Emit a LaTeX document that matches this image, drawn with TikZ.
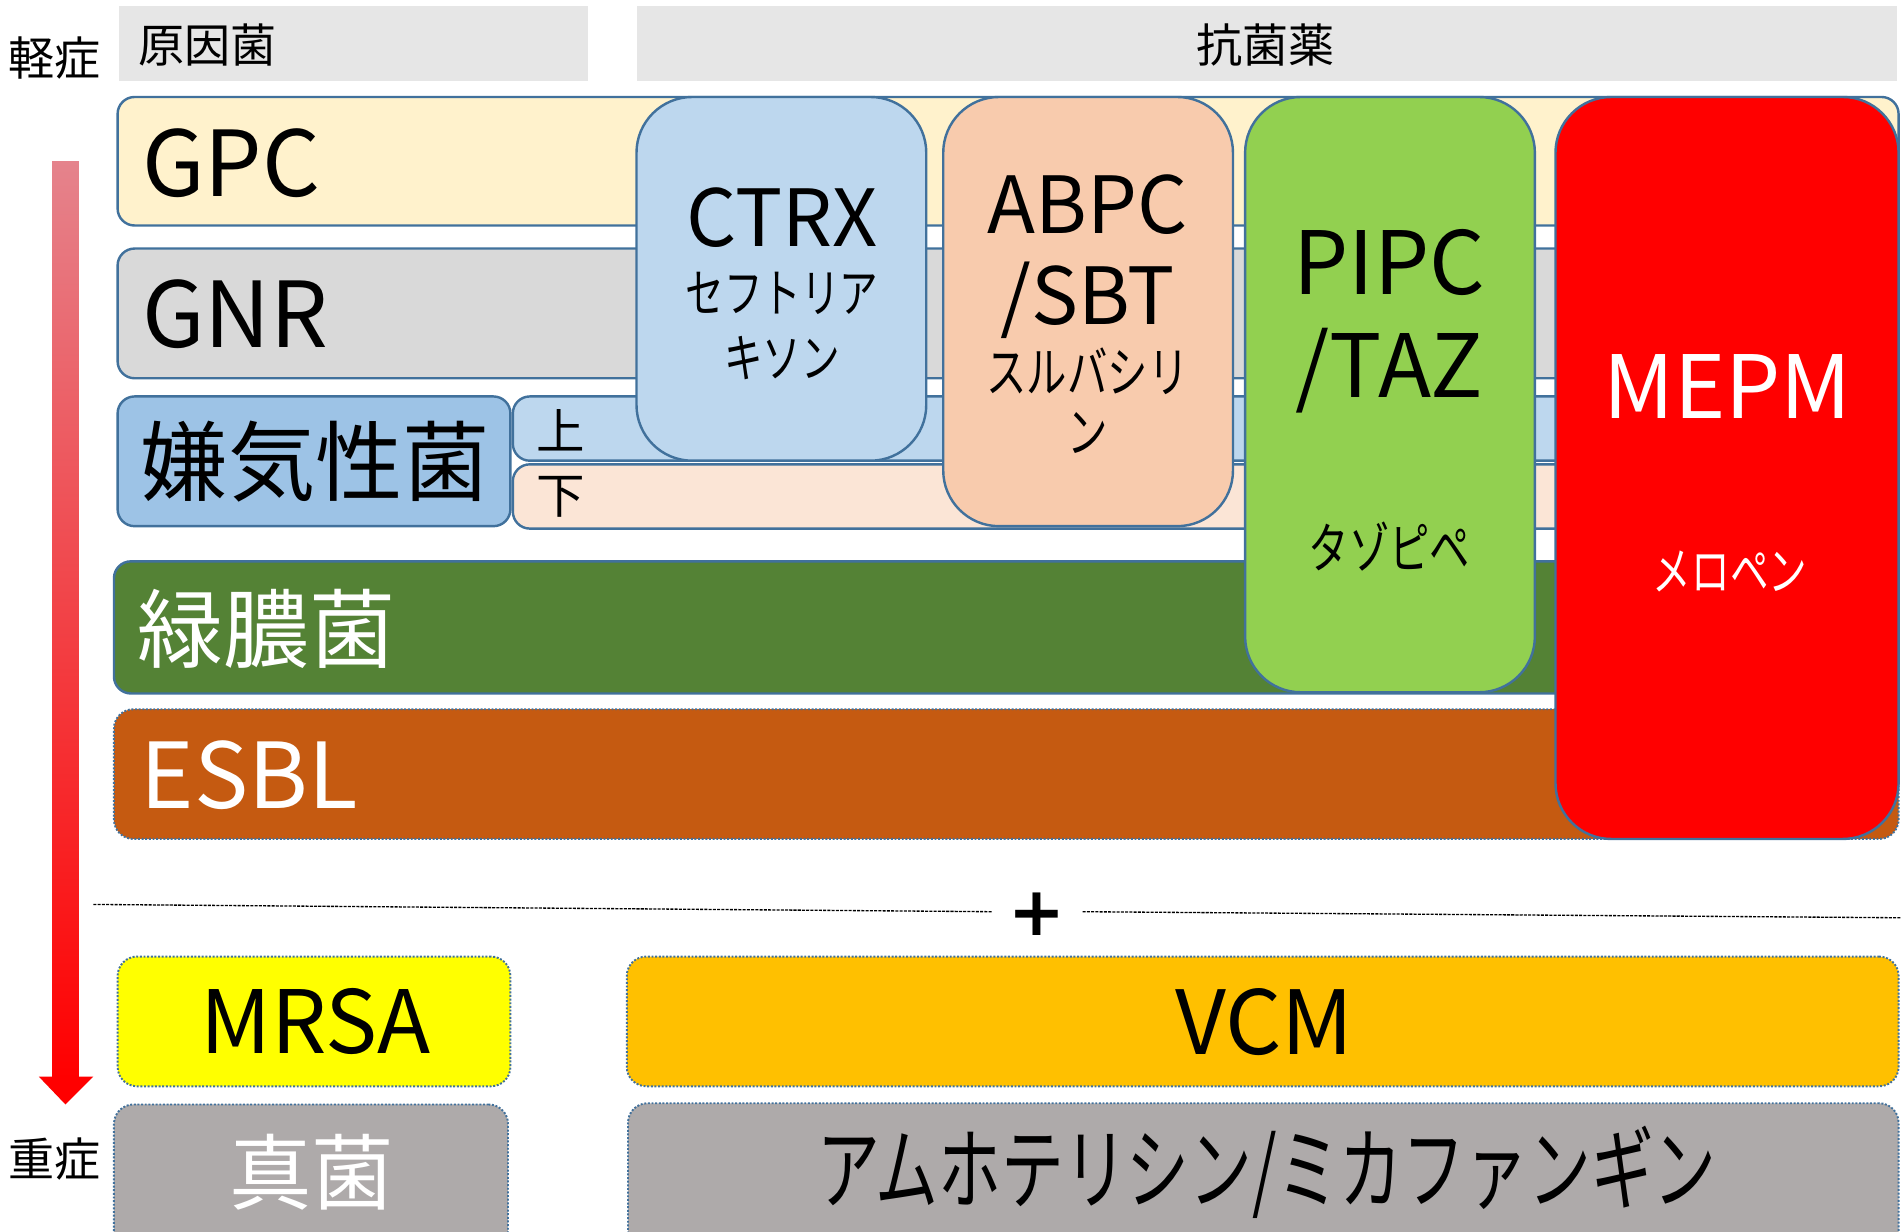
\documentclass[tikz,border=0pt]{standalone}
\usepackage{fontspec}
\setmainfont{Noto Sans CJK JP}
\newfontfamily\condfont[FakeStretch=0.74]{Noto Sans CJK JP}
\newfontfamily\narrowfont[FakeStretch=0.70]{Noto Sans CJK JP}
\newfontfamily\plusfont{DejaVu Sans}
\usetikzlibrary{fit}
\newcommand\fsz[1]{\fontsize{#1}{#1}\selectfont}
\definecolor{hdrgray}{HTML}{E6E6E6}
\definecolor{bordblue}{HTML}{41719C}
\definecolor{gpcfill}{HTML}{FFF2CC}
\definecolor{gnrfill}{HTML}{D9D9D9}
\definecolor{anafill}{HTML}{9DC3E6}
\definecolor{upfill}{HTML}{BDD7EE}
\definecolor{lowfill}{HTML}{FBE5D6}
\definecolor{psfill}{HTML}{548235}
\definecolor{esblfill}{HTML}{C55A11}
\definecolor{abpcfill}{HTML}{F8CBAD}
\definecolor{pipcfill}{HTML}{92D050}
\definecolor{vcmfill}{HTML}{FFC000}
\definecolor{fungfill}{HTML}{AEAAAA}
\definecolor{mrsafill}{HTML}{FFFF00}
\definecolor{arrowtop}{HTML}{E5838C}
\tikzset{
  hdrbox/.style={fill=hdrgray, inner sep=0pt},
  rowbox/.style={draw=bordblue, line width=2pt, rounded corners=14pt, inner sep=0pt},
  dotbox/.style={draw=bordblue, line width=1.6pt, dash pattern=on 1.6pt off 1.4pt, rounded corners=16pt, inner sep=0pt},
  drugbox/.style={draw=bordblue, line width=2pt, rounded corners=46pt, inner sep=0pt},
  txt/.style={inner sep=0pt, text=black},
  wtxt/.style={inner sep=0pt, text=white},
  sepline/.style={line width=1.1pt, dash pattern=on 2.5pt off 1pt}
}
\begin{document}
\begin{tikzpicture}[x=1pt,y=-1pt]
\useasboundingbox (0,0) rectangle (1568,1016);
\clip (0,0) rectangle (1568,1016);
% headers
\node[hdrbox, fit={(98,5) (485,67)}] (hcause) {};
\node[hdrbox, fit={(525,5) (1565,67)}] (hdrug) {};
\node[txt, font=\fsz{38}, anchor=west] (tcause) at (114,37) {原因菌};
\node[txt, font=\fsz{38}] (tdrug) at (1044,37) {抗菌薬};
\node[txt, font=\fsz{38}, anchor=west] (mild) at (7,48) {軽症};
\node[txt, font=\fsz{38}, anchor=west] (severe) at (7,956) {重症};
% severity arrow
\shade[top color=arrowtop, bottom color=red] (43,133) rectangle (65,889);
\fill[red] (32,888) -- (77,888) -- (54,911) -- cycle;
% organism rows
\node[rowbox, fill=gpcfill, fit={(97,80) (1566,186)}] (gpc) {};
\node[rowbox, fill=gnrfill, fit={(97,205) (1566,312)}] (gnr) {};
\node[rowbox, fill=anafill, fit={(97,327) (421,434)}] (ana) {};
\node[rowbox, fill=upfill, fit={(423,327) (1566,380)}] (upper) {};
\node[rowbox, fill=lowfill, fit={(423,383) (1566,436)}] (lower) {};
\node[rowbox, fill=psfill, fit={(94,463) (1566,572)}] (pseudo) {};
\node[dotbox, fill=esblfill, fit={(94,585) (1566,692)}] (esbl) {};
\node[txt, font=\fsz{75}, anchor=base west] (tgpc) at (117,162) {GPC};
\node[txt, font=\fsz{75}, anchor=base west] (tgnr) at (117,287) {GNR};
\node[txt, font=\fsz{72}, anchor=west] (tana) at (116,381) {嫌気性菌};
\node[txt, font=\fsz{40}, anchor=west] (tup) at (442,355) {上};
\node[txt, font=\fsz{40}, anchor=west] (tlow) at (442,410) {下};
\node[wtxt, font=\fsz{71}, anchor=west] (tpseudo) at (113,519) {緑膿菌};
\node[wtxt, font=\fsz{75}, anchor=base west] (tesbl) at (116,667) {ESBL};
% drug boxes
\node[drugbox, fill=upfill, fit={(525,80) (764,380)}] (ctrx) {};
\node[drugbox, fill=abpcfill, fit={(778,80) (1017,434)}] (abpc) {};
\node[drugbox, fill=pipcfill, fit={(1027,80) (1266,571)}] (pipc) {};
\node[drugbox, fill=red, fit={(1283,80) (1566,692)}] (mepm) {};
\node[txt, font=\fsz{65}, anchor=base] (tctrx) at (645,203) {CTRX};
\node[txt, font=\condfont\fsz{43}] (tctrx2) at (645,242) {セフトリア};
\node[txt, font=\condfont\fsz{43}] (tctrx3) at (645,295) {キソン};
\node[txt, font=\fsz{65}, anchor=base] (tabpc) at (897,193) {ABPC};
\node[txt, font=\fsz{65}, anchor=base] (tabpc2) at (897,268) {/SBT};
\node[txt, font=\condfont\fsz{45}] (tabpc3) at (897,306) {スルバシリ};
\node[txt, font=\condfont\fsz{45}] (tabpc4) at (897,357) {ン};
\node[txt, font=\fsz{72}, anchor=base] (tpipc) at (1146,243) {PIPC};
\node[txt, font=\fsz{72}, anchor=base] (tpipc2) at (1146,328) {/TAZ};
\node[txt, font=\condfont\fsz{45}] (tpipc3) at (1146,451) {タゾピペ};
\node[wtxt, font=\fsz{72}, anchor=base] (tmepm) at (1425,345) {MEPM};
\node[wtxt, font=\condfont\fsz{43}] (tmepm2) at (1427,471) {メロペン};
% separator
\coordinate (sepa) at (77,746);
\coordinate (sepb) at (818,752);
\coordinate (sepc) at (893,752);
\coordinate (sepd) at (1568,757);
\draw[sepline] (sepa) -- (sepb);
\draw[sepline] (sepc) -- (sepd);
\node[txt, font=\plusfont\bfseries\fsz{56}] (plus) at (855,754) {+};
% additional organisms
\node[dotbox, fill=mrsafill, fit={(97,789) (421,896)}] (mrsa) {};
\node[dotbox, fill=vcmfill, fit={(517,789) (1566,896)}] (vcm) {};
\node[dotbox, fill=fungfill, fit={(94,911) (419,1040)}] (fungi) {};
\node[dotbox, fill=fungfill, fit={(518,910) (1566,1040)}] (antif) {};
\node[txt, font=\fsz{72}, anchor=base] (tmrsa) at (260,869) {MRSA};
\node[txt, font=\fsz{73}, anchor=base] (tvcm) at (1043,870) {VCM};
\node[wtxt, font=\fsz{68}] (tfungi) at (257,967) {真菌};
\node[txt, font=\narrowfont\fsz{74}] (tantif) at (1045,967) {アムホテリシン/ミカファンギン};
\end{tikzpicture}
\end{document}
